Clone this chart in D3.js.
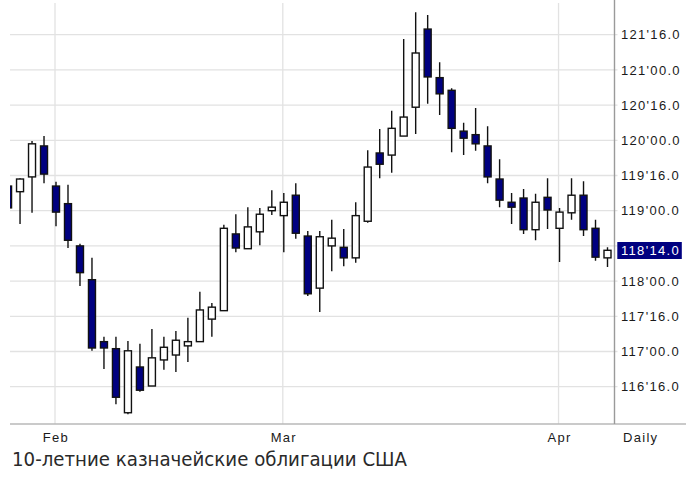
<!DOCTYPE html>
<html>
<head>
<meta charset="utf-8">
<script src="https://cdn.jsdelivr.net/npm/d3@7/dist/d3.min.js"></script>
<style>
  html, body { margin: 0; padding: 0; background: #fff; }
  svg { display: block; }
</style>
</head>
<body>
<svg id="chart" width="688" height="478"></svg>
<script>
// ---- DATA ----
const dates = [
  "2011-01-26","2011-01-27","2011-01-28","2011-01-31",
  "2011-02-01","2011-02-02","2011-02-03","2011-02-04","2011-02-07","2011-02-08","2011-02-09","2011-02-10","2011-02-11",
  "2011-02-14","2011-02-15","2011-02-16","2011-02-17","2011-02-18","2011-02-22","2011-02-23","2011-02-24","2011-02-25","2011-02-28",
  "2011-03-01","2011-03-02","2011-03-03","2011-03-04","2011-03-07","2011-03-08","2011-03-09","2011-03-10","2011-03-11",
  "2011-03-14","2011-03-15","2011-03-16","2011-03-17","2011-03-18","2011-03-21","2011-03-22","2011-03-23","2011-03-24","2011-03-25",
  "2011-03-28","2011-03-29","2011-03-30","2011-03-31",
  "2011-04-01","2011-04-04","2011-04-05","2011-04-06","2011-04-07"
];
const opens = [
  119.35,119.27,119.48,119.92,
  119.35,119.10,118.50,118.02,117.14,117.04,116.13,116.78,116.51,
  116.88,116.95,117.08,117.14,117.46,117.58,118.67,118.46,118.70,119.00,
  118.93,119.22,118.64,117.90,118.50,118.48,118.33,118.85,119.82,
  119.79,120.06,120.47,121.58,120.89,120.71,120.13,120.08,119.92,119.45,
  119.12,119.18,118.73,119.19,
  118.75,118.97,119.22,118.75,118.33
];
const highs = [
  119.39,119.46,119.99,120.06,
  119.41,119.37,118.53,118.33,117.21,117.21,117.15,117.11,117.32,
  117.21,117.29,117.48,117.85,117.69,118.80,118.95,119.05,119.04,119.29,
  119.25,119.39,118.71,118.71,118.87,118.74,119.12,119.86,120.16,
  120.42,121.44,121.82,121.78,121.11,120.74,120.25,120.46,120.20,119.73,
  119.25,119.31,119.24,119.46,
  119.04,119.46,119.42,118.87,118.48
];
const lows = [
  118.98,118.81,118.97,119.39,
  118.78,118.47,117.93,117.01,116.75,116.25,116.11,116.43,116.51,
  116.74,116.71,116.85,117.14,117.21,117.58,118.41,118.46,118.51,118.94,
  118.41,118.60,117.79,117.56,118.14,118.21,118.26,118.83,119.46,
  119.54,120.06,120.09,120.52,120.36,119.83,119.79,119.85,119.39,119.05,
  118.81,118.67,118.58,118.74,
  118.27,118.87,118.64,118.29,118.20
];
const closes = [
  119.04,119.45,119.95,119.52,
  118.98,118.58,118.12,117.05,117.05,116.35,117.01,116.45,116.91,
  117.06,117.16,117.14,117.59,117.63,118.75,118.47,118.77,118.95,119.05,
  119.12,118.68,117.82,118.63,118.61,118.33,118.93,119.62,119.66,
  120.17,120.33,121.24,120.90,120.66,120.17,120.03,119.95,119.48,119.15,
  119.05,118.73,119.12,119.01,
  118.98,119.22,118.73,118.34,118.4375
];
const yTicks = [116.5,117,117.5,118,118.5,119,119.5,120,120.5,121,121.5];
const monthNames = ["Jan","Feb","Mar","Apr","May","Jun","Jul","Aug","Sep","Oct","Nov","Dec"];
const periodLabel = "Daily";
const title = "10-летние казначейские облигации США";

// ---- LAYOUT ----
const W = 688, H = 478;
const plotLeft = 10, plotRight = 614.5, plotTop = 3, plotBottom = 424;
const svg = d3.select("#chart");
const data = dates.map((d, i) => ({date: d, open: opens[i], high: highs[i], low: lows[i], close: closes[i]}));

const x = d3.scalePoint().domain(dates).range([8.05, 607.5]);
const y = d3.scaleLinear().domain([116.5, 121.5]).range([386.7, 34.7]);

function fmt(p) {
  const whole = Math.floor(p + 1e-9);
  const t = Math.round((p - whole) * 32);
  return whole + "'" + String(t).padStart(2, "0") + ".0";
}

svg.append("defs").append("clipPath").attr("id", "plotclip")
  .append("rect").attr("x", plotLeft).attr("y", plotTop)
  .attr("width", plotRight - plotLeft).attr("height", plotBottom - plotTop);

// horizontal gridlines
svg.append("g").selectAll("line").data(yTicks).join("line")
  .attr("x1", plotLeft).attr("x2", plotRight + 3)
  .attr("y1", d => y(d)).attr("y2", d => y(d))
  .attr("stroke", "#e2e2e2").attr("stroke-width", 1.3);

// month boundaries
const monthStarts = data.filter((d, i) => i > 0 && d.date.slice(5, 7) !== data[i - 1].date.slice(5, 7));
svg.append("g").selectAll("line").data(monthStarts).join("line")
  .attr("x1", d => x(d.date) - 1).attr("x2", d => x(d.date) - 1)
  .attr("y1", plotTop).attr("y2", plotBottom)
  .attr("stroke", "#e2e2e2").attr("stroke-width", 1.3);

// candles
const cg = svg.append("g").attr("clip-path", "url(#plotclip)");
const bodyW = 7;
cg.selectAll("line.wick").data(data).join("line").attr("class", "wick")
  .attr("x1", d => x(d.date)).attr("x2", d => x(d.date))
  .attr("y1", d => y(d.high)).attr("y2", d => y(d.low))
  .attr("stroke", "#111").attr("stroke-width", 1.4);
cg.selectAll("rect.body").data(data).join("rect").attr("class", "body")
  .attr("x", d => x(d.date) - bodyW / 2)
  .attr("y", d => y(Math.max(d.open, d.close)))
  .attr("width", bodyW)
  .attr("height", d => Math.max(1, Math.abs(y(d.open) - y(d.close))))
  .attr("fill", d => d.close < d.open ? "#000080" : "#ffffff")
  .attr("stroke", "#111").attr("stroke-width", 1.4);

// axes lines
svg.append("line").attr("x1", plotLeft).attr("x2", 686).attr("y1", plotBottom).attr("y2", plotBottom)
  .attr("stroke", "#b8b8b8").attr("stroke-width", 1.5);
svg.append("line").attr("x1", plotRight).attr("x2", plotRight).attr("y1", 0).attr("y2", plotBottom)
  .attr("stroke", "#9a9a9a").attr("stroke-width", 1.4);

// y tick labels
const last = data[data.length - 1];
const lastY = y(last.close);
const labelFont = "'Liberation Sans', Arial, sans-serif";
svg.append("g").selectAll("text").data(yTicks.filter(t => Math.abs(y(t) - lastY) > 12)).join("text")
  .attr("x", 621).attr("y", d => y(d) + 4.6)
  .attr("font-family", labelFont).attr("font-size", 13).attr("letter-spacing", 1.3)
  .attr("fill", "#1a1a1a").text(d => fmt(d));

// last price highlight
svg.append("rect").attr("x", 617.3).attr("y", lastY - 8.3).attr("width", 64.5).attr("height", 17)
  .attr("fill", "#000080");
svg.append("text").attr("x", 621).attr("y", lastY + 4.6)
  .attr("font-family", labelFont).attr("font-size", 13).attr("letter-spacing", 1.3)
  .attr("fill", "#ffffff").text(fmt(last.close));

// month labels
svg.append("g").selectAll("text").data(monthStarts).join("text")
  .attr("x", d => x(d.date)).attr("y", 442)
  .attr("text-anchor", "middle")
  .attr("font-family", labelFont).attr("font-size", 13).attr("letter-spacing", 1.3)
  .attr("fill", "#1a1a1a").text(d => monthNames[+d.date.slice(5, 7) - 1]);

svg.append("text").attr("x", 623).attr("y", 442)
  .attr("font-family", labelFont).attr("font-size", 13).attr("letter-spacing", 1.3)
  .attr("fill", "#1a1a1a").text(periodLabel);

// title
svg.append("text").attr("x", 12).attr("y", 465.7)
  .attr("font-family", "'DejaVu Sans', Verdana, sans-serif").attr("font-size", 19)
  .attr("textLength", 395).attr("lengthAdjust", "spacingAndGlyphs")
  .attr("fill", "#2a2a2a").text(title);
</script>
</body>
</html>
